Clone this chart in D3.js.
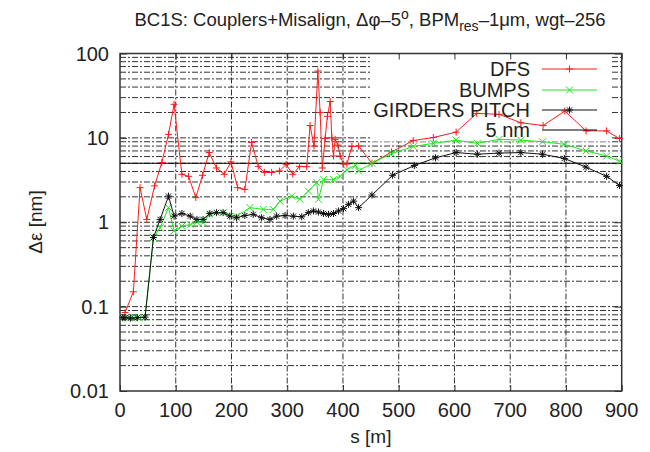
<!DOCTYPE html>
<html>
<head>
<meta charset="utf-8">
<title>BC1S emittance growth</title>
<script src="https://cdn.jsdelivr.net/npm/d3@7"></script>
<style type="text/css">
* { margin: 0; padding: 0; }
body { background: #fff; font-family: "Liberation Sans", Arial, sans-serif; }
text { fill: #222; }
.grid line { stroke: #333; stroke-width: 1; stroke-dasharray: 6,2,2,2; }
</style>
</head>
<body>
<div id="chart"></div>
<script type="text/javascript">
// s positions [m] and emittance growth [nm]
var dfsS = [9, 24, 36, 48, 62, 75, 87, 97, 111, 123, 136, 148, 160, 173, 187, 199, 211, 224, 236, 248,
  259, 272, 286, 298, 310, 322, 335, 341, 348, 355, 359, 363, 368, 372, 377, 380, 383, 386, 391, 395,
  401, 407, 416, 428, 452, 487, 526, 562, 603, 640, 680, 719, 759, 798, 836, 873, 896];
var dfsV = [0.085, 0.15, 2.57, 1.08, 2.7, 5.1, 11, 25, 3.7, 3.5, 1.96, 3.6, 6.7, 4.4, 3.7, 5.2, 2.57, 2.45, 8.8, 4.6,
  3.9, 3.9, 4.05, 4.85, 3.7, 4.6, 4.55, 14, 8.0, 62, 20, 4.4, 9.8, 18, 27, 10, 6.1, 9.6, 8.2, 6.1,
  4.9, 4.9, 7.9, 8.0, 5.0, 6.8, 9.3, 10.1, 11.7, 19.5, 19, 15.1, 14.0, 20.8, 12.1, 12.1, 9.8];

var bumpsS = [5, 15, 25, 35, 45, 60, 72, 87, 97, 111, 126, 138, 149, 161, 185, 209, 233, 257, 275, 287,
  308, 323, 338, 353, 356, 365, 383, 395, 407, 422, 428, 452, 487, 526, 562, 603, 641, 680, 719, 758,
  797, 836, 873, 896];
var bumpsV = [0.074, 0.074, 0.074, 0.074, 0.075, 0.66, 0.86, 1.49, 0.79, 0.9, 0.94, 1.0, 0.99, 1.24, 1.3, 1.18, 1.49, 1.42, 1.42, 1.78,
  2.04, 1.87, 2.34, 2.95, 1.87, 3.2, 3.2, 3.5, 4.2, 4.7, 4.05, 5.0, 6.5, 7.9, 8.6, 9.4, 8.6, 9.6, 9.4, 9.0,
  8.4, 7.0, 6.1, 5.3];

var girdersS = [5, 9, 19, 31, 45, 60, 72, 87, 97, 111, 126, 138, 149, 161, 173, 185, 197, 209, 224, 239,
  254, 269, 281, 296, 311, 326, 338, 347, 356, 365, 374, 383, 392, 401, 410, 419, 428, 452, 489, 528,
  566, 603, 641, 680, 719, 758, 797, 836, 873, 896];
var girdersV = [0.074, 0.074, 0.073, 0.074, 0.075, 0.66, 1.08, 2.04, 1.18, 1.27, 1.18, 1.08, 1.08, 1.27, 1.3, 1.3, 1.18, 1.13, 1.2, 1.24,
  1.13, 1.08, 1.18, 1.2, 1.18, 1.16, 1.3, 1.36, 1.32, 1.27, 1.24, 1.27, 1.36, 1.45, 1.63, 1.78, 1.49, 2.1, 3.6, 4.7,
  5.8, 6.7, 6.4, 6.6, 6.7, 6.4, 5.7, 4.5, 3.5, 2.73];

var refLevel = 5; // nm
var seriesNames = ["DFS", "BUMPS", "GIRDERS PITCH", "5 nm"];
var xTicks = [0, 100, 200, 300, 400, 500, 600, 700, 800, 900];
var yTicks = [0.01, 0.1, 1, 10, 100];
var yTickLabels = ["0.01", "0.1", "1", "10", "100"];

window.onload = function() {
  var W = 650, H = 452;
  var left = 120, right = 621.7, top = 53.5, bottom = 391;

  var svg = d3.select("#chart").append("svg").attr("width", W).attr("height", H);

  var x = d3.scaleLinear().domain([0, 900]).range([left, right]);
  var y = d3.scaleLog().domain([0.01, 100]).range([bottom, top]);

  // minor grid: 1..9 of every decade
  var hLines = [];
  [0.01, 0.1, 1, 10].forEach(function(d) {
    for (var k = 1; k <= 9; k++) if (!(d == 0.01 && k == 1)) hLines.push(d * k);
  });

  var grid = svg.append("g").attr("class", "grid");
  grid.selectAll("line.h").data(hLines).enter().append("line")
    .attr("class", "h")
    .attr("x1", left).attr("x2", right)
    .attr("y1", function(d) { return y(d); }).attr("y2", function(d) { return y(d); });
  grid.selectAll("line.v").data(xTicks.slice(1, -1)).enter().append("line")
    .attr("class", "v")
    .attr("y1", top).attr("y2", bottom)
    .attr("x1", function(d) { return x(d); }).attr("x2", function(d) { return x(d); });

  // key box hides the grid behind it
  svg.append("rect").attr("x", 372).attr("y", top + 1).attr("width", 240).attr("height", 87).attr("fill", "#fff");

  // axes with ticks pointing inwards, mirrored on top / right
  var axB = d3.axisBottom(x).tickValues(xTicks).tickSize(-6).tickFormat("");
  var axT = d3.axisTop(x).tickValues(xTicks).tickSize(-6).tickFormat("");
  var axL = d3.axisLeft(y).tickValues(yTicks).tickSize(-7).tickFormat("");
  var axR = d3.axisRight(y).tickValues(yTicks).tickSize(-7).tickFormat("");
  [[axB, "translate(0," + bottom + ")"], [axT, "translate(0," + top + ")"],
   [axL, "translate(" + left + ",0)"], [axR, "translate(" + right + ",0)"]].forEach(function(a) {
    var g = svg.append("g").attr("transform", a[1]).call(a[0]);
    g.select(".domain").remove();
    g.selectAll("line").attr("stroke", "#333");
  });

  svg.append("rect").attr("x", left).attr("y", top).attr("width", right - left).attr("height", bottom - top)
    .attr("fill", "none").attr("stroke", "#333").attr("stroke-width", 1.5);

  // tick labels
  svg.selectAll("text.xl").data(xTicks).enter().append("text")
    .attr("x", function(d) { return x(d); }).attr("y", bottom + 26)
    .attr("text-anchor", "middle").style("font-size", "20px").text(function(d) { return d; });
  svg.selectAll("text.yl").data(yTicks).enter().append("text")
    .attr("x", left - 11).attr("y", function(d) { return y(d) + 7; })
    .attr("text-anchor", "end").style("font-size", "20px").text(function(d, i) { return yTickLabels[i]; });

  svg.append("text").attr("x", (left + right) / 2).attr("y", 443).attr("text-anchor", "middle")
    .style("font-size", "19px").text("s [m]");
  svg.append("text").attr("transform", "translate(42,222) rotate(-90)").attr("text-anchor", "middle")
    .style("font-size", "19px").text("Δε [nm]");

  var title = svg.append("text").attr("x", 370).attr("y", 26).attr("text-anchor", "middle").style("font-size", "18.5px");
  title.append("tspan").text("BC1S: Couplers+Misalign, Δφ–5");
  title.append("tspan").attr("dy", -7).style("font-size", "14px").text("o");
  title.append("tspan").attr("dy", 7).text(", BPM");
  title.append("tspan").attr("dy", 5).style("font-size", "14px").text("res");
  title.append("tspan").attr("dy", -5).text("–1μm, wgt–256");

  // markers
  function plus(g, s) { return "M" + (-s) + ",0H" + s + "M0," + (-s) + "V" + s; }
  function cross(g, s) { return "M" + (-s) + "," + (-s) + "L" + s + "," + s + "M" + (-s) + "," + s + "L" + s + "," + (-s); }
  function star(g, s) { return plus(g, s) + cross(g, s * 0.75); }

  var series = [
    { s: dfsS, v: dfsV, color: "#ff1a1a", mark: plus },
    { s: bumpsS, v: bumpsV, color: "#1ee61e", mark: cross },
    { s: girdersS, v: girdersV, color: "#111", mark: star }
  ];

  var line = d3.line().x(function(d) { return x(d[0]); }).y(function(d) { return y(d[1]); });

  svg.append("line").attr("x1", left).attr("x2", right).attr("y1", y(refLevel)).attr("y2", y(refLevel))
    .attr("stroke", "#000").attr("stroke-width", 1.2);

  series.forEach(function(sr) {
    var pts = sr.s.map(function(s, i) { return [s, sr.v[i]]; });
    var g = svg.append("g");
    g.append("path").datum(pts).attr("d", line).attr("fill", "none").attr("stroke", sr.color).attr("stroke-width", 1);
    g.selectAll("path.m").data(pts).enter().append("path")
      .attr("transform", function(d) { return "translate(" + x(d[0]) + "," + y(d[1]) + ")"; })
      .attr("d", sr.mark(null, 3.5)).attr("stroke", sr.color).attr("stroke-width", 1).attr("fill", "none");
  });

  // key
  var keyY = [69, 90, 110, 130];
  var keyColors = ["#ff1a1a", "#1ee61e", "#111", "#000"];
  var keyMarks = [plus, cross, star, null];
  seriesNames.forEach(function(name, i) {
    svg.append("text").attr("x", 530).attr("y", keyY[i] + 7).attr("text-anchor", "end")
      .style("font-size", "20px").text(name);
    svg.append("line").attr("x1", 542).attr("x2", 597).attr("y1", keyY[i]).attr("y2", keyY[i])
      .attr("stroke", keyColors[i]).attr("stroke-width", 1.2);
    if (keyMarks[i]) svg.append("path").attr("transform", "translate(569.5," + keyY[i] + ")")
      .attr("d", keyMarks[i](null, 3.5)).attr("stroke", keyColors[i]).attr("fill", "none");
  });
};
</script>
</body>
</html>
